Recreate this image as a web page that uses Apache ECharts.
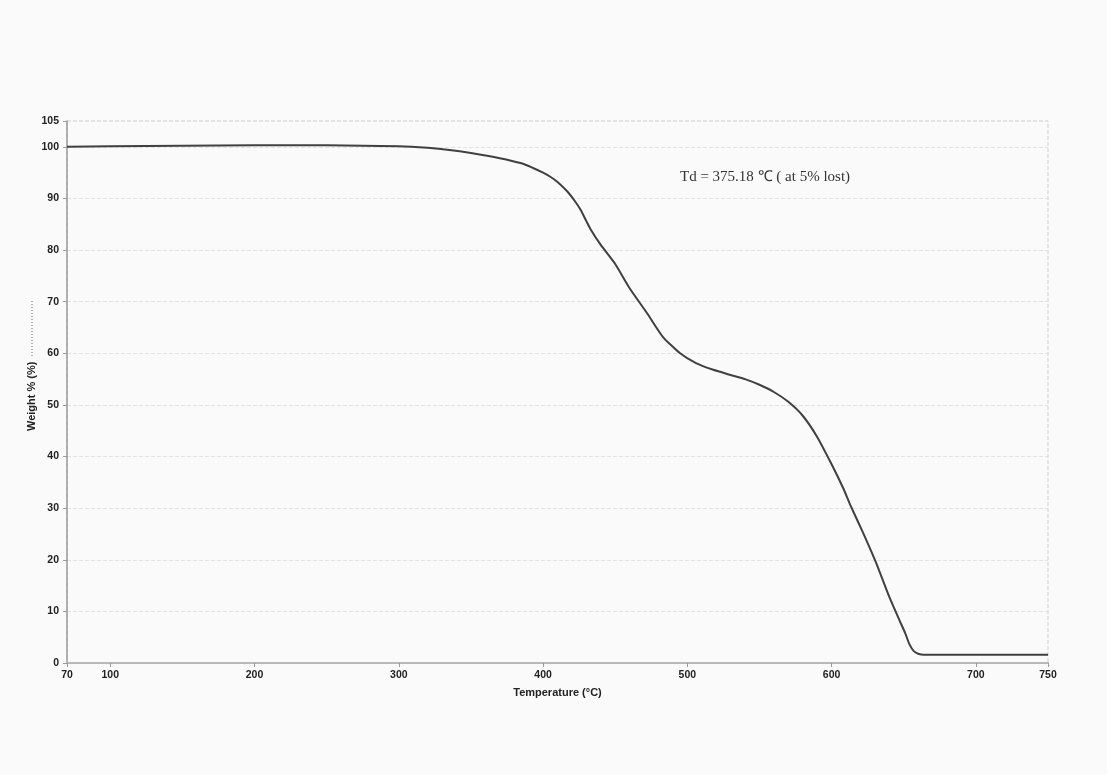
<!DOCTYPE html>
<html>
<head>
<meta charset="utf-8">
<script src="https://cdn.jsdelivr.net/npm/echarts@6/dist/echarts.min.js"></script>
<style>
html,body{margin:0;padding:0;background:#fafafa;}
#chart{width:1107px;height:775px;}
</style>
</head>
<body>
<div id="chart"></div>
<script>
// Data
var temperatures = [70, 100, 150, 200, 250, 300, 320, 335, 350, 370, 385, 393, 400, 405, 410, 417, 422, 426, 430, 433, 440, 450, 460, 472, 483, 495, 506, 518, 530, 540, 550, 560, 570, 580, 590, 600, 608, 613, 622, 631, 640, 647, 651, 654, 657, 660, 664, 670, 700, 750];
var weights = [100.0, 100.1, 100.2, 100.3, 100.3, 100.1, 99.8, 99.4, 98.8, 97.8, 96.8, 95.9, 95.0, 94.2, 93.2, 91.3, 89.5, 87.8, 85.6, 84.0, 81.0, 77.3, 72.6, 67.8, 63.2, 60.0, 58.1, 56.8, 55.8, 55.0, 53.9, 52.5, 50.6, 47.9, 43.8, 38.5, 33.9, 30.6, 25.1, 19.3, 12.8, 8.3, 5.8, 3.6, 2.3, 1.8, 1.6, 1.6, 1.6, 1.6];
var xTickValues = [70, 100, 200, 300, 400, 500, 600, 700, 750];
var annotationText = 'Td = 375.18 \u2103 ( at 5% lost)';
var yAxisTitle = 'Weight % (%)';
var xAxisTitle = 'Temperature (\u00B0C)';

var points = temperatures.map(function (t, i) { return [t, weights[i]]; });

var chart = echarts.init(document.getElementById('chart'), null, {renderer: 'canvas'});
chart.setOption({
  backgroundColor: '#fafafa',
  animation: false,
  grid: {
    left: 67, right: 59, top: 121, bottom: 112,
    show: true, borderColor: '#cfcfcf', borderWidth: 1, borderType: 'dashed',
    backgroundColor: 'transparent'
  },
  xAxis: {
    type: 'value', min: 70, max: 750,
    name: xAxisTitle, nameLocation: 'middle', nameGap: 24,
    nameTextStyle: {fontFamily: 'Liberation Sans', fontSize: 11, fontWeight: 'bold', color: '#222'},
    axisLine: {show: true, lineStyle: {color: '#b8b8b8', width: 2}},
    axisTick: {show: true, length: 4, customValues: xTickValues, lineStyle: {color: '#999'}},
    axisLabel: {customValues: xTickValues, fontFamily: 'Liberation Sans', fontSize: 10.5, fontWeight: 'bold', color: '#222', margin: 7},
    splitLine: {show: false}
  },
  yAxis: {
    type: 'value', min: 0, max: 105, interval: 10,
    axisLine: {show: true, lineStyle: {color: '#9a9a9a', width: 1.5}},
    axisTick: {show: true, length: 4, lineStyle: {color: '#999'}},
    axisLabel: {fontFamily: 'Liberation Sans', fontSize: 10.5, fontWeight: 'bold', color: '#222', margin: 8},
    splitLine: {show: true, lineStyle: {color: '#e2e2e2', type: 'dashed', width: 1}}
  },
  series: [{
    type: 'line',
    data: points,
    showSymbol: false,
    smooth: 0.2,
    lineStyle: {color: '#404040', width: 2}
  }],
  graphic: [
    {
      type: 'text', left: 680, top: 170,
      style: {text: annotationText, font: '15px "Liberation Serif"', fill: '#333'}
    },
    {
      type: 'group', x: 32, y: 431, rotation: Math.PI / 2,
      children: [
        {type: 'text', x: 0, y: 0,
          style: {text: yAxisTitle, font: 'bold 11px "Liberation Sans"', fill: '#222', textAlign: 'left', textVerticalAlign: 'middle'}},
        {type: 'line', shape: {x1: 75, y1: 0, x2: 130, y2: 0},
          style: {stroke: '#666', lineWidth: 1, lineDash: [1, 2]}}
      ]
    }
  ]
});
</script>
</body>
</html>
